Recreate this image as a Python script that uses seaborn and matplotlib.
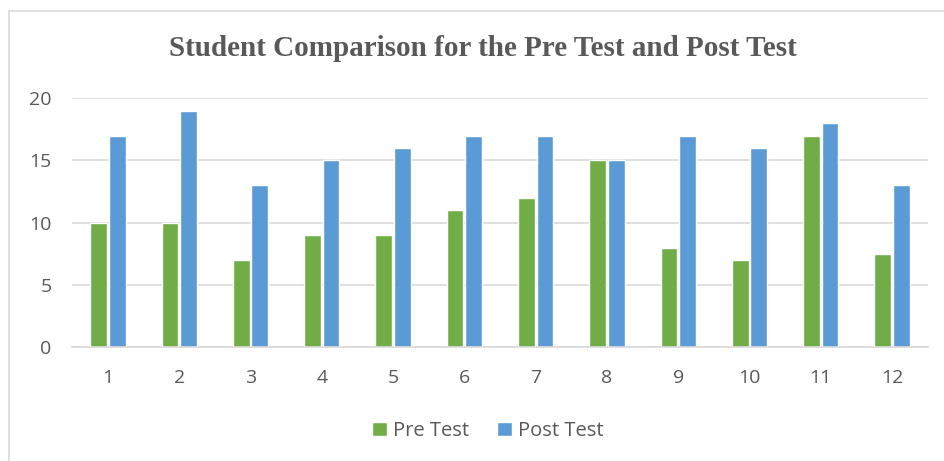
import matplotlib
matplotlib.use("Agg")
import matplotlib.pyplot as plt
import pandas as pd
import seaborn as sns
from matplotlib.patches import Rectangle

students = [str(i) for i in range(1, 13)]
pre_test = [10, 10, 7, 9, 9, 11, 12, 15, 8, 7, 17, 7.5]
post_test = [17, 19, 13, 15, 16, 17, 17, 15, 17, 16, 18, 13]
series = ["Pre Test", "Post Test"]
colors = ["#70AD47", "#5B9BD5"]
y_ticks = [0, 5, 10, 15, 20]

df = pd.DataFrame({
    "student": students * 2,
    "score": pre_test + post_test,
    "test": [series[0]] * len(students) + [series[1]] * len(students),
})

sns.set_style("white")
plt.rcParams["font.family"] = ["Open Sans", "DejaVu Sans"]

fig = plt.figure(figsize=(9.45, 4.61), dpi=100)
ax = fig.add_axes([0.0766, 0.247, 0.905, 0.54])

sns.barplot(data=df, x="student", y="score", hue="test", order=students,
            hue_order=series, palette=colors, width=0.52, gap=0.1,
            saturation=1, ax=ax, legend=True)

ax.set_ylim(0, 20)
ax.set_yticks(y_ticks)
ax.set_xlim(-0.5, len(students) - 0.5)
ax.yaxis.grid(True, color="#D9D9D9", linewidth=1.2)
ax.set_axisbelow(True)
for s in ["top", "right", "left"]:
    ax.spines[s].set_visible(False)
ax.spines["bottom"].set_color("#D9D9D9")
ax.spines["bottom"].set_linewidth(1.2)
ax.tick_params(axis="both", length=0, labelsize=14, labelcolor="#595959")
ax.tick_params(axis="x", pad=16)
ax.tick_params(axis="y", pad=15)
ax.set_xlabel("")
ax.set_ylabel("")

fig.text(0.511, 0.895, "Student Comparison for the Pre Test and Post Test",
         ha="center", va="center", fontsize=21, fontweight="bold",
         family="Liberation Serif", color="#595959")

handles, labels = ax.get_legend_handles_labels()
ax.legend_.remove()
fig.legend(handles, labels, loc="center", bbox_to_anchor=(0.516, 0.065), ncol=2,
           frameon=False, fontsize=14.5, labelcolor="#595959", handlelength=0.75,
           handleheight=0.75, handletextpad=0.3, columnspacing=1.4)

fig.patches.append(Rectangle((9 / 945, -0.01), 1.0, 1 - 11 / 461 + 0.01,
                             transform=fig.transFigure, fill=False,
                             edgecolor="#D9D9D9", linewidth=1.2))

fig.savefig("out.png", dpi=100)
plt.close(fig)
